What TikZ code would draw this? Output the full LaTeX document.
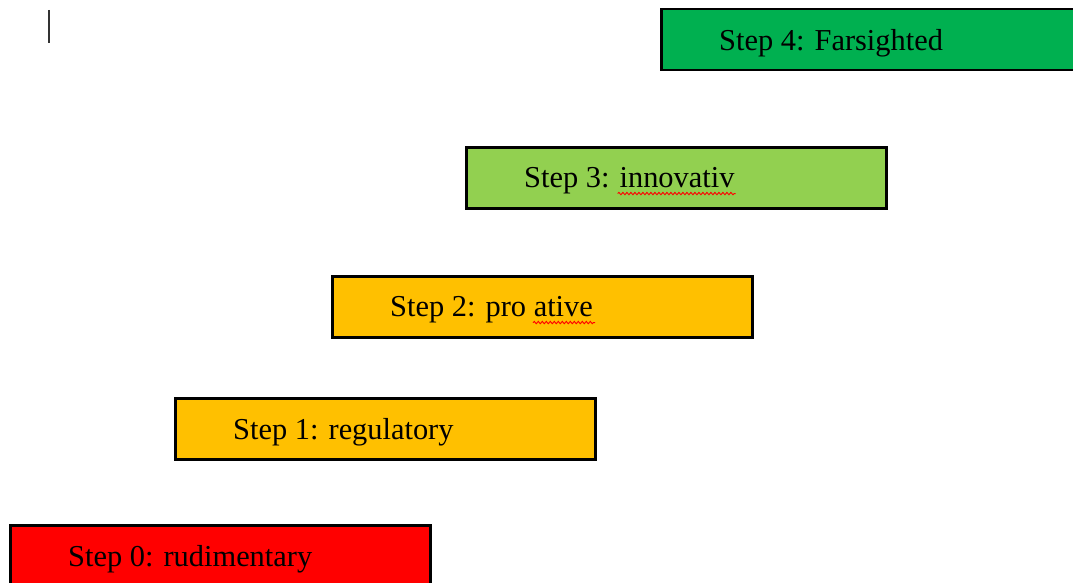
\documentclass[tikz,border=0pt]{standalone}
\usepackage{fontspec}
\setmainfont{Liberation Serif}
\usetikzlibrary{positioning, calc, decorations.pathmorphing}
\definecolor{cDark}{RGB}{0,176,80}
\definecolor{cLight}{RGB}{146,208,80}
\definecolor{cGold}{RGB}{255,192,0}
\definecolor{cRed}{RGB}{255,0,0}
\tikzset{
	stepbox/.style={rectangle, draw=black, line width=2.5pt, minimum width=420pt, minimum height=61pt, inner sep=0pt, anchor=north west},
	lbl/.style    ={inner sep=0pt, yshift=-3pt, font=\fontsize{30.4}{36}\selectfont},
	spell/.style  ={draw=red, line width=0.9pt, decorate, decoration={snake, segment length=4pt, amplitude=1.2pt}},
}

\begin{document}
\begin{tikzpicture}[x=1pt, y=-1pt]
	\useasboundingbox (0,0) rectangle (1073,583);
	\clip (0,0) rectangle (1073,583);
	\node[stepbox, fill=cDark] (b4) at (660,8) {};
	\node[stepbox, fill=cLight] (b3) at (465,146) {};
	\node[stepbox, fill=cGold] (b2) at (331,275) {};
	\node[stepbox, fill=cGold] (b1) at (174,397) {};
	\node[stepbox, fill=cRed] (b0) at (9,524) {};
	\node[lbl, right=59pt of b4.west] (t4) {Step 4: Farsighted};
	\node[lbl, right=59pt of b3.west] (t3) {Step 3: innovativ};
	\node[lbl, right=59pt of b2.west] (t2) {Step 2: pro ative};
	\node[lbl, right=59pt of b1.west] (t1) {Step 1: regulatory};
	\node[lbl, right=59pt of b0.west] (t0) {Step 0: rudimentary};
	% spelling marks
	\draw[spell] ($(t3.base east)+(-117,6)$) -- ($(t3.base east)+(1,6)$);
	\draw[spell] ($(t2.base east)+(-60,6)$) -- ($(t2.base east)+(2,6)$);
	% cursor
	\draw[line width=1.5pt, black!80] (49,10) -- (49,43);
\end{tikzpicture}
\end{document}
